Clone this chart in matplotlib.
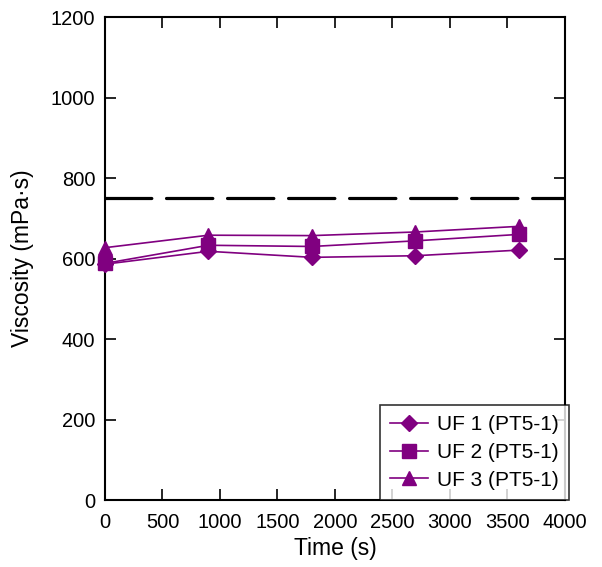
import matplotlib
matplotlib.use("Agg")
import matplotlib.pyplot as plt

plt.rcParams['font.family'] = ['Liberation Sans', 'DejaVu Sans']

time_s = [0, 900, 1800, 2700, 3600]
uf1 = [586, 618, 603, 607, 621]
uf2 = [588, 633, 630, 644, 660]
uf3 = [627, 658, 657, 666, 680]
limit = 750

series = [
    ("UF 1 (PT5-1)", uf1, "D", 8.5),
    ("UF 2 (PT5-1)", uf2, "s", 10.5),
    ("UF 3 (PT5-1)", uf3, "^", 10.5),
]

fig = plt.figure(figsize=(6.02, 5.67), dpi=100)
ax = fig.add_axes([0.1744, 0.118, 0.764, 0.852])

color = "#800080"
for label, vals, marker, ms in series:
    ax.plot(time_s, vals, color=color, marker=marker, markersize=ms,
            linewidth=1.2, label=label, clip_on=False, zorder=3)

ax.axhline(limit, color="black", linewidth=2.3, dashes=(14.5, 4.6),
           dash_capstyle="round", zorder=2)

ax.set_xlim(0, 4000)
ax.set_ylim(0, 1200)
ax.set_xticks(range(0, 4001, 500))
ax.set_yticks(range(0, 1201, 200))
ax.tick_params(direction="in", length=8, width=1.2, labelsize=14.5,
               top=True, right=True)
ax.tick_params(axis="x", pad=9)
ax.tick_params(axis="y", pad=7)
for sp in ax.spines.values():
    sp.set_linewidth(1.5)

ax.set_xlabel("Time (s)", fontsize=16.5, labelpad=4)
ax.set_ylabel("Viscosity (mPa·s)", fontsize=16.5, labelpad=12)

leg = ax.legend(loc="lower right", bbox_to_anchor=(1.009, 0.0), fontsize=15,
                frameon=True, fancybox=False, edgecolor="black",
                handlelength=1.8, handletextpad=0.45, borderpad=0.5,
                labelspacing=0.42, borderaxespad=0.0)
leg.get_frame().set_linewidth(1.2)
leg.set_zorder(5)

fig.savefig("out.png", dpi=100)
